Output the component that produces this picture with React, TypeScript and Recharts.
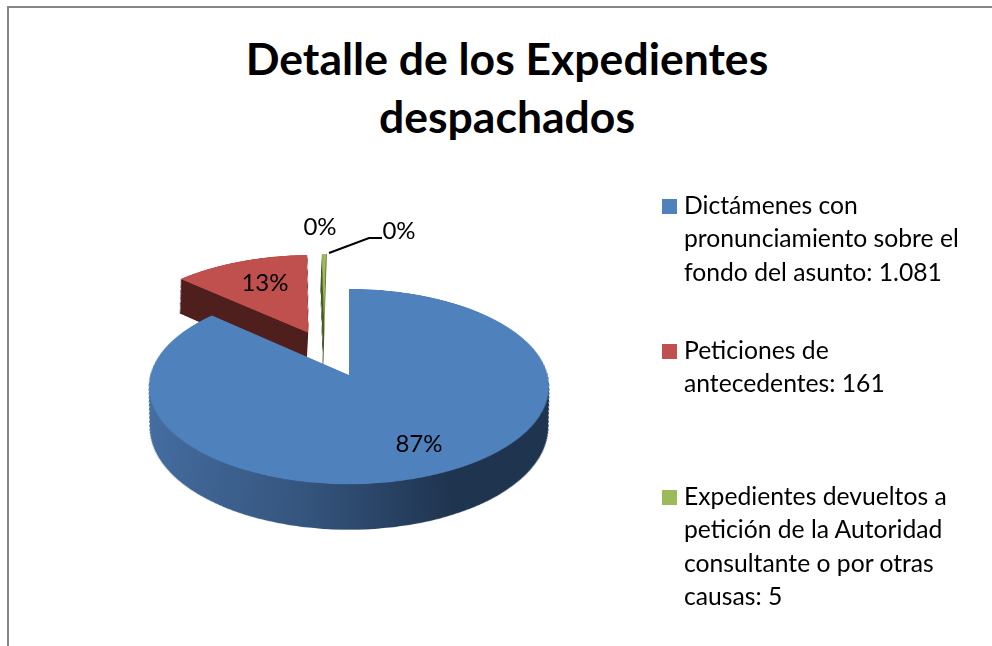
import { Cell, Pie, PieChart } from 'recharts'

const sliceNames = ['Dictámenes', 'Peticiones', 'Expedientes devueltos', 'Otros']
const sliceValues = [1081, 161, 5, 1]
const sliceColors = ['#4f81bd', '#c0504d', '#9bbb59', '#8064a2']
const sideColors = ['url(#blueSide)', '#4e1f1c', '#4a5a2a', '#3a2d4c']
const percentLabels = ['87%', '13%', '0%', '0%']

const legendColors = ['#4f81bd', '#c0504d', '#9bbb59']
const legendTexts = [
  ['Dictámenes con', 'pronunciamiento sobre el', 'fondo del asunto: 1.081'],
  ['Peticiones de', 'antecedentes: 161'],
  ['Expedientes devueltos a', 'petición de la Autoridad', 'consultante o por otras', 'causas: 5'],
]
const titleLines = ['Detalle de los Expedientes', 'despachados']

// layout, kept apart from the values
const legendTops = [188, 333, 479]
const labelCenters = [
  [419, 442],
  [265, 281],
  [320, 225],
  [399, 229],
]
const explode = [
  [0, 0],
  [-43, -92],
  [-26, -94],
  [-26, -94],
]
const drawOrder = [3, 2, 1, 0]
const depthSteps = Array.from({ length: 41 }, (_, i) => i * 2)

const SIZE = 800
const RADIUS = 198.6
const TAPER = 0.00065 // keeps the side wall upright under the perspective
const FONT = 'Lato, Carlito, sans-serif'

const tableRows = sliceNames.map((name, i) => ({ name, value: sliceValues[i] }))

function renderSlice(index: number, offsetY: number, fill: string) {
  return (
    <Pie
      key={`${index}-${offsetY}-${fill}`}
      data={tableRows}
      dataKey="value"
      cx={SIZE / 2 + explode[index][0]}
      cy={SIZE / 2 + explode[index][1] + offsetY}
      innerRadius={0}
      outerRadius={RADIUS * (1 - TAPER * offsetY)}
      startAngle={90}
      endAngle={-270}
      stroke="none"
      label={false}
      labelLine={false}
      isAnimationActive={false}
    >
      {tableRows.map((row, i) => (
        <Cell key={row.name} fill={i === index ? fill : 'none'} stroke="none" />
      ))}
    </Pie>
  )
}

export default function App() {
  return (
    <div
      style={{
        position: 'fixed',
        left: 0,
        top: 0,
        width: 992,
        height: 646,
        overflow: 'hidden',
        background: '#fff',
        fontFamily: FONT,
        color: '#000',
      }}
    >
      <div style={{ position: 'absolute', left: 7, top: 6, width: 985, height: 2, background: '#868686' }} />
      <div style={{ position: 'absolute', left: 7, top: 6, width: 2, height: 640, background: '#868686' }} />

      {titleLines.map((line, i) => (
        <div
          key={line}
          style={{
            position: 'absolute',
            left: 207,
            width: 600,
            top: 33 + i * 58,
            textAlign: 'center',
            fontSize: 44.5,
            lineHeight: '50px',
            fontWeight: 700,
            whiteSpace: 'nowrap',
          }}
        >
          {line}
        </div>
      ))}

      <div
        style={{
          position: 'absolute',
          left: 349 - SIZE / 2,
          top: 375 - SIZE / 2,
          width: SIZE,
          height: SIZE,
          transformOrigin: '50% 50%',
          transform: 'perspective(1472px) rotateX(61deg)',
        }}
      >
        <PieChart width={SIZE} height={SIZE} margin={{ top: 0, right: 0, bottom: 0, left: 0 }}>
          <defs>
            <linearGradient id="blueSide" gradientUnits="userSpaceOnUse" x1={SIZE / 2 - RADIUS} y1="0" x2={SIZE / 2 + 90} y2="0">
              <stop offset="0%" stopColor="#466fa3" />
              <stop offset="55%" stopColor="#35557e" />
              <stop offset="100%" stopColor="#1f344f" />
            </linearGradient>
          </defs>
          {drawOrder.flatMap((index) => [
            ...depthSteps.slice(1).reverse().map((d) => renderSlice(index, d, sideColors[index])),
            renderSlice(index, 0, sliceColors[index]),
          ])}
        </PieChart>
      </div>

      <svg width={992} height={646} style={{ position: 'absolute', left: 0, top: 0 }}>
        <polyline points="329,253 369,238 382,238" fill="none" stroke="#000" strokeWidth={2} />
        {percentLabels.map((label, i) => (
          <text
            key={i}
            x={labelCenters[i][0]}
            y={labelCenters[i][1]}
            textAnchor="middle"
            dominantBaseline="central"
            fontSize={24}
            fontFamily={FONT}
            fill="#000"
          >
            {label}
          </text>
        ))}
      </svg>

      {legendTexts.map((lines, i) => (
        <div key={lines[0]} style={{ position: 'absolute', left: 662, top: legendTops[i] }}>
          <div style={{ position: 'absolute', left: 0, top: 11, width: 15, height: 15, background: legendColors[i] }} />
          {lines.map((line) => (
            <div
              key={line}
              style={{ marginLeft: 22, fontSize: 24.7, lineHeight: '33.3px', whiteSpace: 'nowrap' }}
            >
              {line}
            </div>
          ))}
        </div>
      ))}
    </div>
  )
}
